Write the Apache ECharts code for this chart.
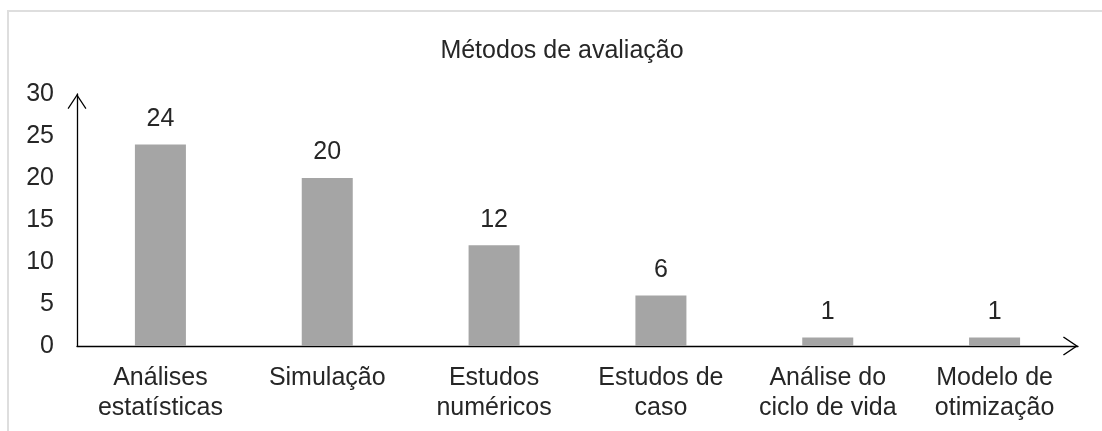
<!DOCTYPE html>
<html>
<head>
<meta charset="utf-8">
<script src="https://cdn.jsdelivr.net/npm/echarts@6/dist/echarts.min.js"></script>
<style>
  html, body { margin: 0; padding: 0; background: #fff; }
  #chart { width: 1102px; height: 431px; }
</style>
</head>
<body>
<div id="chart"></div>
<script>
// Evaluation methods and how many studies used each one
const categories = [
  'Análises\nestatísticas',
  'Simulação',
  'Estudos\nnuméricos',
  'Estudos de\ncaso',
  'Análise do\nciclo de vida',
  'Modelo de\notimização'
];
const counts = [24, 20, 12, 6, 1, 1];
const yTicks = { min: 0, max: 30, step: 5 };

const FONT = '"Liberation Sans", Arial, sans-serif';
const TEXT = '#262626';
const FS = 25;

// Open chevron used as the arrowhead at the end of each axis line
const chevron = 'path://M0 15 L10 0 L20 15 L18.9 15.9 L10 2.5 L1.1 15.9 Z';

const chart = echarts.init(document.getElementById('chart'), null, { renderer: 'canvas' });

chart.setOption({
  animation: false,
  backgroundColor: '#fff',
  textStyle: { fontFamily: FONT },
  title: {
    text: 'Métodos de avaliação',
    left: 557,
    top: 34,
    textAlign: 'center',
    textStyle: { fontFamily: FONT, fontSize: FS, fontWeight: 'normal', color: TEXT }
  },
  graphic: [{
    // thin frame along the top and left edges
    type: 'rect',
    shape: { x: 8, y: 11, width: 1200, height: 600 },
    style: { fill: 'none', stroke: '#dedede', lineWidth: 2 },
    silent: true,
    z: -1
  }],
  grid: { left: 77, right: 24, top: 94, bottom: 85, outerBoundsMode: 'none' },
  xAxis: {
    type: 'category',
    data: categories,
    axisLine: {
      show: true,
      lineStyle: { color: '#000', width: 1.3 },
      symbol: ['none', chevron],
      symbolSize: [20, 15],
      symbolOffset: [0, -7.5]
    },
    axisTick: { show: false },
    axisLabel: {
      interval: 0,
      margin: 17,
      fontSize: FS,
      lineHeight: 30,
      color: TEXT,
      fontFamily: FONT
    }
  },
  yAxis: {
    type: 'value',
    min: yTicks.min,
    max: yTicks.max,
    interval: yTicks.step,
    splitLine: { show: false },
    axisTick: { show: false },
    axisLine: {
      show: true,
      lineStyle: { color: '#000', width: 1.3 },
      symbol: ['none', chevron],
      symbolSize: [20, 15],
      symbolOffset: [0, -7.5]
    },
    axisLabel: { margin: 23, fontSize: FS, color: TEXT, fontFamily: FONT }
  },
  series: [{
    type: 'bar',
    data: counts,
    barWidth: 51,
    itemStyle: { color: '#a5a5a5' },
    label: {
      show: true,
      position: 'top',
      distance: 13,
      fontSize: FS,
      color: TEXT,
      fontFamily: FONT
    }
  }]
});
</script>
</body>
</html>
